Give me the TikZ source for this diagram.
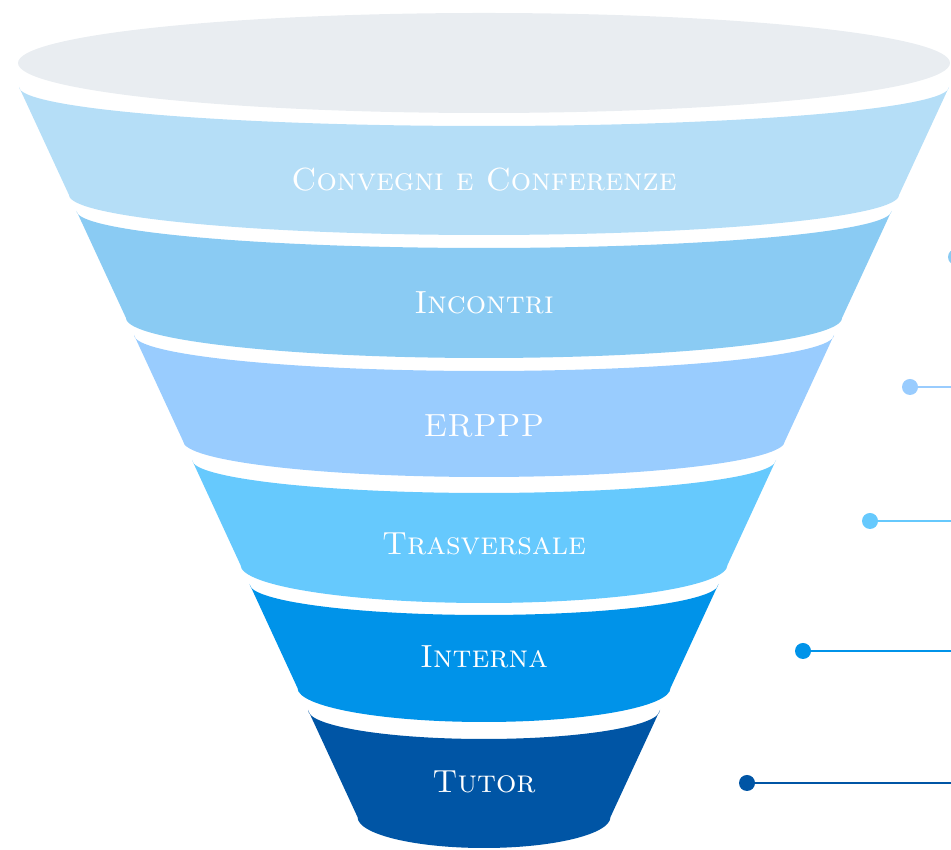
\documentclass[tikz,border=0pt]{standalone}
\definecolor{topgray}{HTML}{E9EDF1}
\definecolor{convcol}{HTML}{B5DEF7}
\definecolor{inccol}{HTML}{8ACBF3}
\definecolor{erpcol}{HTML}{99CCFE}
\definecolor{trascol}{HTML}{66C9FD}
\definecolor{intcol}{HTML}{0093E9}
\definecolor{tutcol}{HTML}{0055A5}
\tikzset{
  stage/.style={text=white, anchor=base, font=\fontsize{32}{36}\selectfont\scshape},
  stagedot/.style={circle, fill, inner sep=0pt, minimum size=16pt},
  stageline/.style={line width=2.5pt}
}
\begin{document}
\begin{tikzpicture}[x=1pt,y=1pt]
    \useasboundingbox (0,0) rectangle (951,850);
    \clip (0,0) rectangle (951,850);
    \fill[topgray] (484,787) ellipse[x radius=466, y radius=50];
    \fill[convcol] (19,763) arc[start angle=180, end angle=360, x radius=465, y radius=39] -- (899,655) arc[start angle=0, end angle=-180, x radius=415, y radius=40] -- cycle;
    \fill[inccol] (76.5,639) arc[start angle=180, end angle=360, x radius=407.5, y radius=37] -- (842,532) arc[start angle=0, end angle=-180, x radius=358, y radius=40] -- cycle;
    \fill[erpcol] (134,515) arc[start angle=180, end angle=360, x radius=350, y radius=36] -- (785,409) arc[start angle=0, end angle=-180, x radius=301, y radius=36] -- cycle;
    \fill[trascol] (192,390) arc[start angle=180, end angle=360, x radius=292, y radius=33] -- (727.5,285) arc[start angle=0, end angle=-180, x radius=243.5, y radius=38] -- cycle;
    \fill[intcol] (249.5,266) arc[start angle=180, end angle=360, x radius=234.5, y radius=31] -- (670.5,162) arc[start angle=0, end angle=-180, x radius=186.5, y radius=34] -- cycle;
    \fill[tutcol] (308,140) arc[start angle=180, end angle=360, x radius=176, y radius=29] -- (610.5,33) arc[start angle=0, end angle=-180, x radius=126.5, y radius=31] -- cycle;
    \node[stage] (conv) at (484,659) {Convegni e Conferenze};
    \node[stage] (inc) at (484,536) {Incontri};
    \node[stage] (erp) at (484,413) {ERPPP};
    \node[stage] (tras) at (484,295) {Trasversale};
    \node[stage] (int) at (484,182) {Interna};
    \node[stage] (tut) at (484,57) {Tutor};
    \node[stagedot, inccol] (incdot) at (956,593) {};
    \node[stagedot, erpcol] (erpdot) at (910,463) {};
    \node[stagedot, trascol] (trasdot) at (870,329) {};
    \node[stagedot, intcol] (intdot) at (803,199) {};
    \node[stagedot, tutcol] (tutdot) at (747,67) {};
    \coordinate (erpend) at (960,463);
    \coordinate (trasend) at (960,329);
    \coordinate (intend) at (960,199);
    \coordinate (tutend) at (960,67);
    \draw[stageline, erpcol] (erpdot) -- (erpend);
    \draw[stageline, trascol] (trasdot) -- (trasend);
    \draw[stageline, intcol] (intdot) -- (intend);
    \draw[stageline, tutcol] (tutdot) -- (tutend);
\end{tikzpicture}
\end{document}
